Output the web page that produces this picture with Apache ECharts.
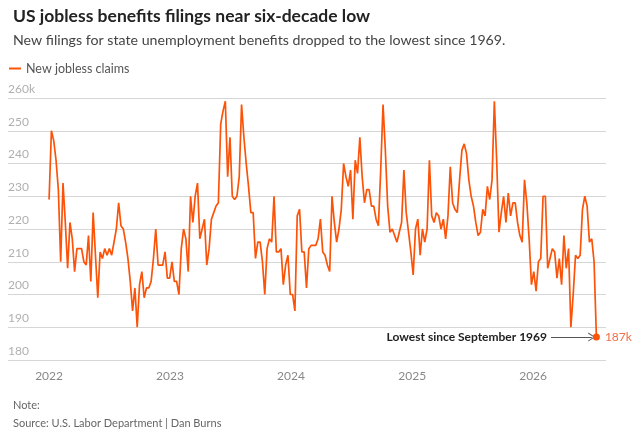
<!DOCTYPE html>
<html>
<head>
<meta charset="utf-8">
<script src="https://cdn.jsdelivr.net/npm/echarts@6/dist/echarts.min.js"></script>
<style>
  html, body { margin: 0; padding: 0; background: #fff; }
  #chart { width: 640px; height: 434px; }
</style>
</head>
<body>
<div id="chart"></div>
<script>
// weekly initial claims, thousands (week ending Saturday)
const firstWeek = '2022-01-01';
const claims2022 = [229, 250, 247, 241, 232, 210, 234, 222, 208, 222, 217, 207, 214, 214, 214, 210, 209, 218, 204, 225,
  212, 199, 213, 211, 214, 212, 214, 212, 216, 220, 228, 221, 220, 216, 211, 204, 195, 202, 190,
  203, 207, 199, 202, 202, 204, 211, 220, 209, 209, 209, 213, 205, 205];
const claims2023 = [210, 204, 204, 200, 214, 220, 217, 207, 230, 222, 230, 234, 217, 220, 223, 209, 214, 223, 225, 227,
  228, 252, 256, 259, 236, 248, 230, 229, 230, 236, 258, 248, 240, 233, 225, 225, 211, 216, 216, 210,
  200, 214, 217, 216, 230, 213, 213, 214, 203, 209, 212, 200];
const claims2024 = [200, 195, 224, 226, 213, 213, 202, 214, 215, 215, 215, 217, 223, 213, 212,
  209, 207, 230, 222, 216, 220, 226, 240, 236, 233, 238, 223, 241, 237, 248, 236, 228, 232, 232, 227,
  227, 223, 221, 238, 258, 244, 227, 219, 220, 218, 216, 219, 222, 238, 225, 219, 213];
const claims2025 = [206, 220, 223, 212, 220, 216, 220, 241, 224, 222, 225, 224, 220, 223, 217, 224, 239, 228, 226, 225,
  235, 244, 246, 243, 235, 230, 227, 222, 218, 219, 226, 224, 233, 229, 235, 259, 241, 219, 225, 230,
  222, 231, 224, 228, 228, 222, 218, 216, 235, 228, 217, 203];
const claims2026 = [207, 201, 210, 211, 230, 230, 208, 211, 214, 213, 205, 211, 203, 218, 208, 214, 190, 200, 212, 211,
  212, 226, 230, 227, 216, 217, 210, 187];

const yTicks = [180, 190, 200, 210, 220, 230, 240, 250, 260];
const xRange = ['2021-08-30', '2026-08-09'];
const arrowFrom = '2026-02-24';
const arrowTo = '2026-06-27';
const lowNote = 'Lowest since September 1969';

const DAY = 86400000;
const allClaims = [].concat(claims2022, claims2023, claims2024, claims2025, claims2026);
const t0 = new Date(firstWeek + 'T00:00:00Z').getTime();
const series = allClaims.map((v, i) => [t0 + i * 7 * DAY, v]);
const last = series[series.length - 1];

const orange = '#fc5308';
const font = 'Lato';

const chart = echarts.init(document.getElementById('chart'), null, { renderer: 'canvas' });

const option = {
  animation: false,
  textStyle: { fontFamily: font },
  title: [{
    text: 'US jobless benefits filings near six-decade low',
    subtext: 'New filings for state unemployment benefits dropped to the lowest since 1969.',
    left: 8,
    top: 2,
    itemGap: 8,
    textStyle: { fontFamily: font, fontSize: 17.5, fontWeight: 'bold', color: '#222' },
    subtextStyle: { fontFamily: font, fontSize: 14.2, color: '#444' }
  }, {
    text: 'Note:',
    subtext: 'Source: U.S. Labor Department | Dan Burns',
    left: 8,
    top: 395,
    itemGap: 7,
    textStyle: { fontFamily: font, fontSize: 11, fontWeight: 'normal', color: '#666' },
    subtextStyle: { fontFamily: font, fontSize: 11, color: '#666' }
  }],
  legend: {
    left: 4,
    top: 57,
    icon: 'rect',
    itemWidth: 12,
    itemHeight: 2,
    itemGap: 4,
    textStyle: { fontFamily: font, fontSize: 12.5, color: '#555' },
    data: ['New jobless claims']
  },
  grid: { left: 8, right: 34, top: 98, bottom: 74 },
  xAxis: {
    type: 'time',
    min: new Date(xRange[0] + 'T00:00:00Z').getTime(),
    max: new Date(xRange[1] + 'T00:00:00Z').getTime(),
    minInterval: 365 * DAY,
    maxInterval: 366 * DAY,
    axisLine: { show: false },
    axisTick: { show: false },
    splitLine: { show: false },
    axisLabel: {
      formatter: '{yyyy}',
      color: '#888',
      fontFamily: font,
      fontSize: 12,
      margin: 10,
      showMinLabel: false,
      showMaxLabel: false
    }
  },
  yAxis: {
    type: 'value',
    min: yTicks[0],
    max: yTicks[yTicks.length - 1],
    interval: 10,
    axisLine: { show: false },
    axisTick: { show: false },
    splitLine: { lineStyle: { color: '#d6d6d6', width: 1 } },
    axisLabel: {
      inside: true,
      margin: 0,
      verticalAlign: 'bottom',
      padding: [0, 0, 3, 0],
      color: '#b0b0b0',
      fontFamily: font,
      fontSize: 12,
      formatter: v => (v === yTicks[yTicks.length - 1] ? v + 'k' : String(v))
    }
  },
  series: [{
    name: 'New jobless claims',
    type: 'line',
    data: series,
    showSymbol: false,
    color: orange,
    lineStyle: { width: 1.7, color: orange },
    markPoint: {
      silent: true,
      data: [{
        coord: last,
        symbol: 'circle',
        symbolSize: 7,
        itemStyle: { color: orange },
        label: {
          show: true,
          position: 'right',
          distance: 5,
          formatter: last[1] + 'k',
          color: '#f26d45',
          fontFamily: font,
          fontSize: 12
        }
      }]
    },
    markLine: {
      silent: true,
      symbol: ['none', 'path://M0,10 L6,0 L12,10 L10.6,10 L6,2.4 L1.4,10 Z'],
      symbolSize: [9, 7],
      lineStyle: { color: '#555', width: 1, type: 'solid' },
      label: {
        show: true,
        position: 'start',
        distance: 4,
        formatter: lowNote,
        color: '#222',
        fontFamily: font,
        fontWeight: 'bold',
        fontSize: 12
      },
      data: [[
        { coord: [new Date(arrowFrom + 'T00:00:00Z').getTime(), last[1]] },
        { coord: [new Date(arrowTo + 'T00:00:00Z').getTime(), last[1]] }
      ]]
    }
  }]
};

chart.setOption(option);
</script>
</body>
</html>
